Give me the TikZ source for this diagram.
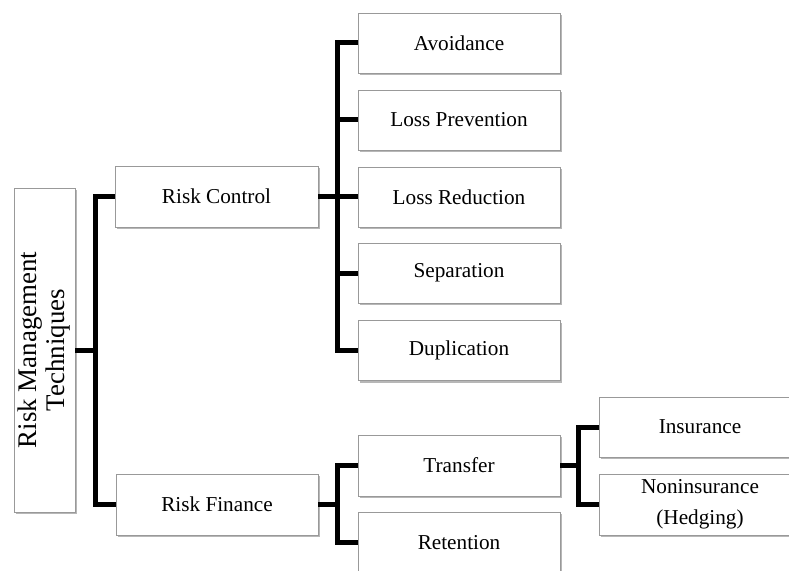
\documentclass[tikz,border=0pt]{standalone}
\usepackage{fontspec}
\setmainfont{Liberation Serif}
\usepackage{graphicx}
\usetikzlibrary{shadows}
\tikzset{
  box/.style={draw=black!40, line width=0.9bp, fill=white, minimum width=202bp, minimum height=60bp,
    inner sep=0pt, align=center, font=\fontsize{21.3}{31}\selectfont,
    drop shadow={shadow xshift=1.6bp, shadow yshift=-2.4bp, opacity=0.4, fill=black!70}},
  conn/.style={line width=5bp, line join=miter, black},
}
\begin{document}
\begin{tikzpicture}[x=1bp,y=-1bp]
\useasboundingbox (0,0) rectangle (789,571);
\clip (0,0) rectangle (789,571);
% root
\node[box, minimum width=61bp, minimum height=324bp] (root) at (44.5,350)
  {\rotatebox{90}{\fontsize{27}{30}\selectfont\begin{tabular}{@{}c@{}}Risk Management\\[-1pt]Techniques\end{tabular}}};
% level 1
\node[box, minimum width=203bp, minimum height=61bp] (rc) at (216.5,196.5) {Risk Control};
\node[box, minimum height=61bp] (rf) at (217,504.5) {Risk Finance};
% risk control children
\node[box] (av) at (459,43) {Avoidance};
\node[box] (lp) at (459,120) {Loss Prevention};
\node[box] (lr) at (459,197) {Loss Reduction};
\node[box] (sp) at (459,273) {Separation};
\node[box] (du) at (459,350.5) {Duplication};
% risk finance children
\node[box, minimum height=61bp] (tr) at (459,465.5) {Transfer};
\node[box, minimum height=61bp] (re) at (459,542.5) {Retention};
% transfer children
\node[box] (in) at (700,427) {Insurance};
\node[box, minimum height=61bp] (ni) at (700,504.5) {Noninsurance\\(Hedging)};
% bar coordinates
\coordinate (b0) at (95,350);
\coordinate (b1) at (337,196.5);
\coordinate (b2) at (337,504.5);
\coordinate (b3) at (578,465.5);
% connectors
\draw[conn] (root.east) -- (b0);
\draw[conn] (rc.west) -| (b0) |- (rf.west);
\draw[conn] (rc.east) -- (b1);
\draw[conn] (av.west) -| (b1) |- (du.west);
\draw[conn] (lp.west) -- (lp.west -| b1);
\draw[conn] (lr.west) -- (lr.west -| b1);
\draw[conn] (sp.west) -- (sp.west -| b1);
\draw[conn] (rf.east) -- (b2);
\draw[conn] (tr.west) -| (b2) |- (re.west);
\draw[conn] (tr.east) -- (b3);
\draw[conn] (in.west) -| (b3) |- (ni.west);
\end{tikzpicture}
\end{document}
